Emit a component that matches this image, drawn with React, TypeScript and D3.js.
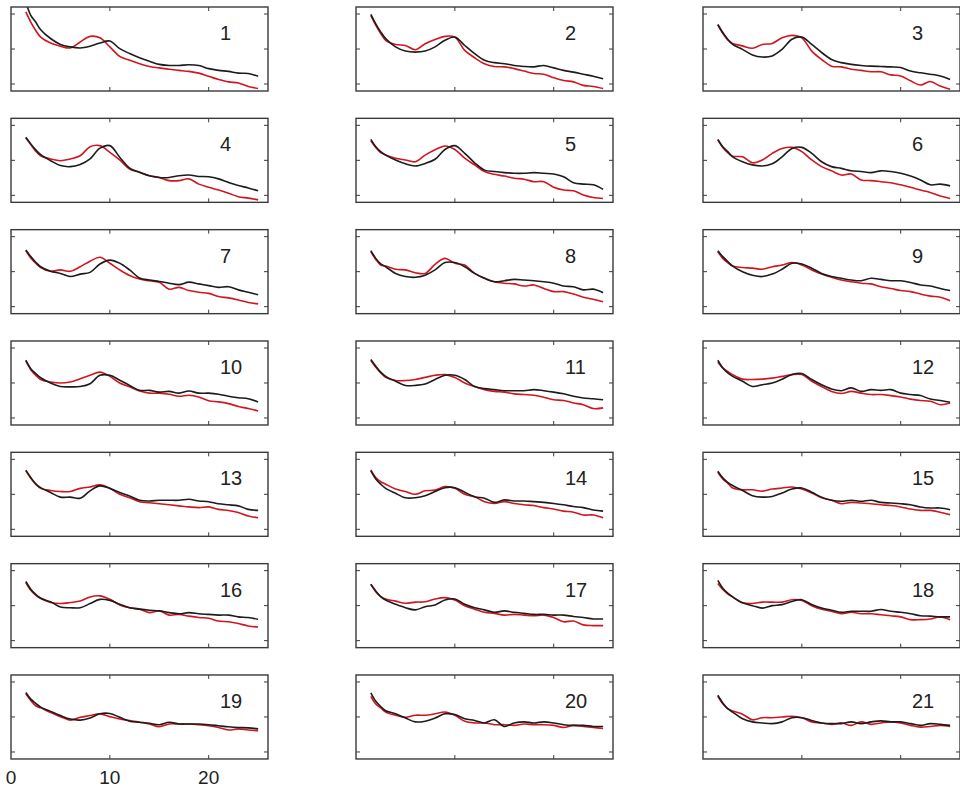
import * as d3 from 'd3';

// sample positions (x) shared by every panel
const xs = [1.5, 2, 2.5, 3, 4, 5, 6, 7, 8, 9, 10, 11, 12, 13, 14, 15, 16, 17, 18, 19, 20, 21, 22, 23, 24, 25];

const panelIds = ['1', '2', '3', '4', '5', '6', '7', '8', '9', '10', '11', '12', '13', '14', '15', '16', '17', '18', '19', '20', '21'];

// black curves, one row per panel
const black = [
  [2.34, 1.96, 1.77, 1.55, 1.30, 1.13, 1.06, 1.03, 1.08, 1.17, 1.23, 1.01, 0.87, 0.75, 0.65, 0.56, 0.53, 0.53, 0.55, 0.53, 0.44, 0.39, 0.36, 0.31, 0.30, 0.22],
  [1.99, 1.72, 1.49, 1.30, 1.06, 0.94, 0.91, 0.94, 1.06, 1.25, 1.34, 1.10, 0.87, 0.68, 0.61, 0.58, 0.53, 0.50, 0.49, 0.53, 0.46, 0.39, 0.34, 0.28, 0.22, 0.15],
  [1.70, 1.47, 1.28, 1.13, 0.99, 0.83, 0.77, 0.80, 0.99, 1.28, 1.34, 1.13, 0.90, 0.70, 0.61, 0.56, 0.53, 0.51, 0.50, 0.49, 0.47, 0.37, 0.32, 0.28, 0.23, 0.13],
  [1.66, 1.47, 1.30, 1.16, 0.99, 0.85, 0.82, 0.88, 1.04, 1.35, 1.42, 1.09, 0.78, 0.66, 0.56, 0.51, 0.51, 0.56, 0.58, 0.54, 0.53, 0.47, 0.37, 0.28, 0.21, 0.13],
  [1.60, 1.39, 1.25, 1.15, 1.01, 0.90, 0.84, 0.91, 1.03, 1.31, 1.42, 1.20, 0.93, 0.72, 0.68, 0.65, 0.63, 0.63, 0.65, 0.63, 0.61, 0.53, 0.36, 0.32, 0.30, 0.17],
  [1.60, 1.39, 1.25, 1.10, 0.96, 0.87, 0.84, 0.90, 1.10, 1.34, 1.37, 1.20, 0.96, 0.82, 0.77, 0.70, 0.68, 0.65, 0.70, 0.68, 0.63, 0.55, 0.44, 0.30, 0.32, 0.27],
  [1.62, 1.43, 1.27, 1.14, 1.01, 0.95, 0.86, 0.93, 0.98, 1.22, 1.33, 1.24, 1.05, 0.82, 0.76, 0.72, 0.67, 0.63, 0.70, 0.65, 0.60, 0.55, 0.57, 0.48, 0.41, 0.34],
  [1.60, 1.38, 1.22, 1.14, 0.95, 0.86, 0.84, 0.90, 1.05, 1.26, 1.26, 1.14, 0.95, 0.81, 0.71, 0.74, 0.78, 0.76, 0.74, 0.71, 0.67, 0.59, 0.57, 0.48, 0.50, 0.40],
  [1.60, 1.43, 1.29, 1.16, 1.00, 0.90, 0.86, 0.93, 1.07, 1.24, 1.22, 1.10, 0.95, 0.86, 0.81, 0.76, 0.74, 0.81, 0.78, 0.74, 0.74, 0.69, 0.62, 0.59, 0.52, 0.46],
  [1.65, 1.41, 1.27, 1.15, 1.00, 0.90, 0.89, 0.90, 0.98, 1.22, 1.22, 1.08, 0.93, 0.79, 0.79, 0.74, 0.76, 0.71, 0.77, 0.71, 0.71, 0.68, 0.62, 0.58, 0.55, 0.46],
  [1.67, 1.48, 1.31, 1.19, 1.05, 0.93, 0.93, 0.97, 1.10, 1.22, 1.22, 1.10, 0.90, 0.84, 0.81, 0.78, 0.78, 0.78, 0.81, 0.78, 0.74, 0.69, 0.62, 0.57, 0.55, 0.52],
  [1.65, 1.43, 1.29, 1.19, 1.05, 0.90, 0.95, 1.00, 1.11, 1.24, 1.27, 1.10, 0.95, 0.83, 0.78, 0.86, 0.76, 0.81, 0.79, 0.81, 0.71, 0.67, 0.64, 0.54, 0.50, 0.45],
  [1.69, 1.48, 1.30, 1.19, 1.05, 0.92, 0.92, 0.89, 1.10, 1.24, 1.17, 1.05, 0.95, 0.83, 0.81, 0.83, 0.83, 0.83, 0.86, 0.81, 0.79, 0.73, 0.70, 0.67, 0.57, 0.54],
  [1.67, 1.44, 1.29, 1.17, 1.03, 0.90, 0.90, 0.96, 1.08, 1.19, 1.19, 1.06, 0.93, 0.89, 0.77, 0.84, 0.81, 0.81, 0.79, 0.77, 0.74, 0.70, 0.65, 0.62, 0.55, 0.52],
  [1.66, 1.47, 1.34, 1.25, 1.11, 0.96, 0.92, 0.94, 1.04, 1.15, 1.18, 1.06, 0.92, 0.83, 0.80, 0.83, 0.80, 0.83, 0.77, 0.75, 0.73, 0.70, 0.64, 0.61, 0.61, 0.56],
  [1.69, 1.47, 1.32, 1.21, 1.11, 0.96, 0.94, 0.94, 1.06, 1.18, 1.15, 1.04, 0.94, 0.90, 0.87, 0.85, 0.80, 0.77, 0.80, 0.77, 0.75, 0.73, 0.73, 0.68, 0.66, 0.61],
  [1.61, 1.42, 1.26, 1.16, 1.04, 0.94, 0.88, 0.97, 1.02, 1.16, 1.19, 1.04, 0.94, 0.88, 0.81, 0.85, 0.81, 0.78, 0.75, 0.75, 0.73, 0.73, 0.69, 0.66, 0.62, 0.62],
  [1.72, 1.50, 1.36, 1.25, 1.08, 1.00, 0.93, 1.00, 1.03, 1.12, 1.17, 1.03, 0.93, 0.87, 0.81, 0.84, 0.84, 0.84, 0.89, 0.84, 0.81, 0.77, 0.71, 0.70, 0.68, 0.68],
  [1.70, 1.51, 1.39, 1.28, 1.16, 1.04, 0.94, 0.91, 0.97, 1.09, 1.10, 0.99, 0.88, 0.85, 0.82, 0.78, 0.85, 0.80, 0.80, 0.80, 0.78, 0.75, 0.72, 0.70, 0.69, 0.66],
  [1.69, 1.45, 1.30, 1.18, 1.09, 0.97, 0.86, 0.88, 0.97, 1.09, 1.07, 0.95, 0.90, 0.83, 0.92, 0.73, 0.83, 0.86, 0.83, 0.86, 0.83, 0.78, 0.76, 0.76, 0.73, 0.73],
  [1.62, 1.40, 1.24, 1.14, 0.95, 0.86, 0.83, 0.81, 0.86, 0.98, 0.98, 0.90, 0.83, 0.81, 0.81, 0.86, 0.81, 0.86, 0.89, 0.86, 0.86, 0.81, 0.76, 0.81, 0.79, 0.76],
];

// red curves, one row per panel
const red = [
  [2.06, 1.77, 1.53, 1.34, 1.17, 1.08, 1.03, 1.20, 1.36, 1.32, 1.06, 0.79, 0.68, 0.58, 0.50, 0.46, 0.42, 0.39, 0.36, 0.31, 0.22, 0.13, 0.06, 0.03, -0.07, -0.13],
  [1.96, 1.68, 1.44, 1.25, 1.13, 1.10, 0.98, 1.15, 1.27, 1.36, 1.34, 0.96, 0.75, 0.58, 0.50, 0.49, 0.44, 0.37, 0.30, 0.28, 0.18, 0.10, 0.06, -0.04, -0.07, -0.13],
  [1.69, 1.45, 1.26, 1.16, 1.09, 1.02, 1.13, 1.16, 1.32, 1.39, 1.32, 0.94, 0.70, 0.51, 0.49, 0.42, 0.39, 0.35, 0.35, 0.26, 0.23, 0.09, -0.03, 0.07, -0.06, -0.15],
  [1.64, 1.45, 1.26, 1.13, 1.04, 0.99, 1.04, 1.13, 1.39, 1.42, 1.23, 1.01, 0.75, 0.66, 0.56, 0.51, 0.42, 0.42, 0.47, 0.32, 0.23, 0.15, 0.06, -0.04, -0.08, -0.13],
  [1.56, 1.37, 1.22, 1.15, 1.06, 1.01, 0.96, 1.15, 1.30, 1.41, 1.31, 1.06, 0.87, 0.68, 0.60, 0.55, 0.49, 0.46, 0.39, 0.39, 0.23, 0.15, 0.13, 0.01, -0.06, -0.09],
  [1.58, 1.37, 1.22, 1.12, 1.10, 0.93, 1.01, 1.20, 1.34, 1.37, 1.25, 1.01, 0.82, 0.70, 0.58, 0.61, 0.44, 0.42, 0.39, 0.36, 0.30, 0.23, 0.15, 0.08, -0.02, -0.09],
  [1.60, 1.39, 1.24, 1.12, 1.01, 1.05, 1.01, 1.14, 1.30, 1.41, 1.24, 1.05, 0.89, 0.79, 0.74, 0.70, 0.50, 0.55, 0.46, 0.41, 0.38, 0.29, 0.25, 0.19, 0.12, 0.08],
  [1.57, 1.35, 1.19, 1.16, 1.07, 1.05, 0.97, 0.95, 1.21, 1.38, 1.24, 1.19, 0.95, 0.81, 0.71, 0.67, 0.65, 0.59, 0.62, 0.52, 0.43, 0.43, 0.36, 0.27, 0.21, 0.14],
  [1.57, 1.38, 1.26, 1.16, 1.12, 1.10, 1.07, 1.14, 1.19, 1.26, 1.19, 1.05, 0.93, 0.84, 0.76, 0.71, 0.67, 0.65, 0.57, 0.52, 0.46, 0.43, 0.36, 0.30, 0.27, 0.17],
  [1.63, 1.38, 1.22, 1.10, 1.03, 1.00, 1.03, 1.12, 1.22, 1.31, 1.19, 1.00, 0.89, 0.77, 0.71, 0.71, 0.68, 0.62, 0.65, 0.60, 0.49, 0.46, 0.41, 0.33, 0.27, 0.20],
  [1.64, 1.45, 1.29, 1.16, 1.07, 1.07, 1.10, 1.16, 1.22, 1.24, 1.16, 1.00, 0.90, 0.81, 0.76, 0.74, 0.69, 0.67, 0.65, 0.59, 0.52, 0.50, 0.43, 0.38, 0.27, 0.29],
  [1.59, 1.43, 1.33, 1.24, 1.11, 1.10, 1.11, 1.14, 1.19, 1.24, 1.24, 1.05, 0.90, 0.76, 0.70, 0.76, 0.71, 0.67, 0.67, 0.64, 0.60, 0.54, 0.50, 0.48, 0.38, 0.43],
  [1.67, 1.46, 1.29, 1.17, 1.11, 1.08, 1.08, 1.17, 1.21, 1.27, 1.17, 1.00, 0.90, 0.79, 0.76, 0.73, 0.70, 0.67, 0.64, 0.62, 0.64, 0.57, 0.54, 0.48, 0.38, 0.33],
  [1.70, 1.48, 1.36, 1.29, 1.15, 1.08, 1.00, 1.10, 1.12, 1.22, 1.17, 1.00, 0.93, 0.79, 0.74, 0.79, 0.74, 0.70, 0.68, 0.62, 0.58, 0.52, 0.49, 0.41, 0.41, 0.33],
  [1.63, 1.44, 1.32, 1.18, 1.13, 1.13, 1.09, 1.15, 1.18, 1.21, 1.15, 1.04, 0.90, 0.83, 0.73, 0.77, 0.75, 0.73, 0.70, 0.68, 0.64, 0.58, 0.54, 0.54, 0.49, 0.42],
  [1.66, 1.44, 1.30, 1.21, 1.09, 1.06, 1.09, 1.13, 1.25, 1.28, 1.18, 1.02, 0.94, 0.90, 0.80, 0.85, 0.73, 0.75, 0.70, 0.66, 0.64, 0.56, 0.54, 0.49, 0.42, 0.39],
  [1.61, 1.40, 1.26, 1.19, 1.13, 1.07, 1.10, 1.11, 1.19, 1.23, 1.16, 1.00, 0.90, 0.81, 0.78, 0.73, 0.75, 0.73, 0.71, 0.73, 0.66, 0.54, 0.56, 0.45, 0.43, 0.43],
  [1.63, 1.46, 1.34, 1.25, 1.08, 1.06, 1.10, 1.10, 1.10, 1.17, 1.15, 1.00, 0.90, 0.84, 0.77, 0.81, 0.77, 0.77, 0.74, 0.71, 0.68, 0.60, 0.60, 0.62, 0.68, 0.60],
  [1.66, 1.47, 1.32, 1.26, 1.13, 1.01, 0.91, 0.99, 1.04, 1.09, 1.01, 0.94, 0.90, 0.85, 0.80, 0.72, 0.80, 0.80, 0.80, 0.78, 0.75, 0.70, 0.63, 0.66, 0.63, 0.61],
  [1.59, 1.37, 1.26, 1.14, 1.05, 0.99, 1.05, 1.05, 1.09, 1.14, 1.05, 0.88, 0.83, 0.83, 0.78, 0.78, 0.76, 0.80, 0.78, 0.78, 0.76, 0.70, 0.76, 0.73, 0.70, 0.67],
  [1.59, 1.38, 1.24, 1.17, 1.08, 0.92, 0.98, 0.98, 1.00, 1.02, 0.98, 0.86, 0.83, 0.79, 0.83, 0.76, 0.86, 0.79, 0.83, 0.86, 0.83, 0.76, 0.71, 0.73, 0.76, 0.73],
];

const xTicks = [10, 20];
const yTicks = [0, 1, 2];
const xTickLabels = [0, 10, 20];

const W = 960;
const H = 789;
const colLeft = [11, 356, 703];
const rowTop0 = 7;
const rowStep = 111.33;
const panelW = 257;
const panelH = 84;
const tickLen = 4;
const frameColor = '#3a3a3a';

export default function App() {
  const x = d3.scaleLinear().domain([0, 26]).range([0, panelW]);
  const y = d3.scaleLinear().domain([-0.2, 2.2]).range([panelH, 0]);

  const line = d3.line<number>()
    .x((_, i) => x(xs[i]))
    .y(d => y(d))
    .curve(d3.curveCatmullRom.alpha(0.5));

  return (
    <svg
      width={W}
      height={H}
      style={{ position: 'absolute', left: 0, top: 0, background: '#fff' }}
      fontFamily="'Liberation Sans', Arial, sans-serif"
    >
      <defs>
        <clipPath id="panel-clip">
          <rect x={0} y={0} width={panelW} height={panelH} />
        </clipPath>
      </defs>
      {panelIds.map((id, k) => {
        const col = k % 3;
        const row = Math.floor(k / 3);
        const left = colLeft[col];
        const top = rowTop0 + row * rowStep;
        return (
          <g key={id} transform={`translate(${left},${top})`}>
            <g clipPath="url(#panel-clip)">
              <path d={line(red[k]) ?? ''} fill="none" stroke="#d2151f" strokeWidth={1.6} />
              <path d={line(black[k]) ?? ''} fill="none" stroke="#1c1c1c" strokeWidth={1.6} />
            </g>
            {xTicks.map(t => (
              <g key={'x' + t} stroke={frameColor} strokeWidth={1}>
                <line x1={x(t)} x2={x(t)} y1={0} y2={tickLen} />
                <line x1={x(t)} x2={x(t)} y1={panelH} y2={panelH - tickLen} />
              </g>
            ))}
            {yTicks.map(t => (
              <g key={'y' + t} stroke={frameColor} strokeWidth={1}>
                <line x1={0} x2={tickLen} y1={y(t)} y2={y(t)} />
                <line x1={panelW} x2={panelW - tickLen} y1={y(t)} y2={y(t)} />
              </g>
            ))}
            <rect x={0} y={0} width={panelW} height={panelH} fill="none" stroke={frameColor} strokeWidth={1.4} />
            <text x={209} y={33} fontSize={20} fill="#222">{id}</text>
            {k === 18 && xTickLabels.map(t => (
              <text key={'l' + t} x={x(t)} y={panelH + 25} fontSize={19} fill="#222" textAnchor="middle">{t}</text>
            ))}
          </g>
        );
      })}
    </svg>
  );
}
